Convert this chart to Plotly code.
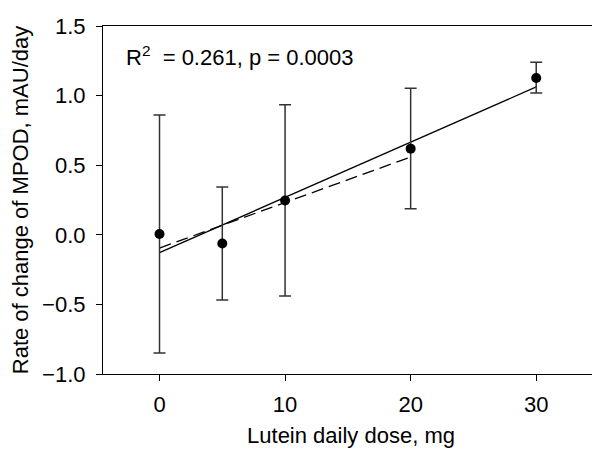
import plotly.graph_objects as go

dose = [0, 5, 10, 20, 30]
rate = [0.006, -0.063, 0.246, 0.619, 1.127]
err_upper = [0.861, 0.343, 0.935, 1.052, 1.239]
err_lower = [-0.849, -0.468, -0.440, 0.188, 1.019]

fit_all_x = [0, 30]
fit_all_y = [-0.128, 1.062]
fit_sub_x = [0, 20]
fit_sub_y = [-0.095, 0.559]

plus = [u - r for u, r in zip(err_upper, rate)]
minus = [r - l for r, l in zip(rate, err_lower)]

FONT = "Arial, Liberation Sans, sans-serif"

fig = go.Figure()
fig.add_trace(go.Scatter(
    x=fit_all_x, y=fit_all_y, mode="lines",
    line=dict(color="black", width=1.3), showlegend=False))
fig.add_trace(go.Scatter(
    x=fit_sub_x, y=fit_sub_y, mode="lines",
    line=dict(color="black", width=1.3, dash="12px,6px"), showlegend=False))
fig.add_trace(go.Scatter(
    x=dose, y=rate, mode="markers",
    marker=dict(color="black", size=10),
    error_y=dict(type="data", symmetric=False, array=plus, arrayminus=minus,
                 color="#333333", thickness=1.5, width=6),
    showlegend=False))

fig.add_annotation(
    xref="paper", yref="paper", x=0.043, y=0.915, xanchor="left", yanchor="middle",
    text="R<sup>2</sup>\u00a0 = 0.261, p = 0.0003", showarrow=False,
    font=dict(family=FONT, size=22, color="black"))

axis_common = dict(
    showgrid=False, zeroline=False, showline=True, linecolor="black", linewidth=1.2,
    mirror=True, ticks="outside", ticklen=6, tickwidth=1.2, tickcolor="black",
    tickfont=dict(family=FONT, size=22, color="black"), automargin=False,
)

fig.update_xaxes(range=[-4.5, 35], tickvals=[0, 10, 20, 30],
                 ticklabelstandoff=4,
                 title=dict(text="Lutein daily dose, mg", standoff=12,
                            font=dict(family=FONT, size=22, color="black")),
                 **axis_common)
fig.update_yaxes(range=[-1.0, 1.5], tickvals=[-1.0, -0.5, 0.0, 0.5, 1.0, 1.5],
                 tickformat=".1f", ticklabelstandoff=6,
                 title=dict(text="Rate of change of MPOD, mAU/day", standoff=12,
                            font=dict(family=FONT, size=22, color="black")),
                 **axis_common)

fig.update_layout(
    width=600, height=451,
    margin=dict(l=95, r=9, t=18, b=85, pad=0),
    plot_bgcolor="white", paper_bgcolor="white",
    font=dict(family=FONT, color="black"),
)

fig.write_html("out.html")
